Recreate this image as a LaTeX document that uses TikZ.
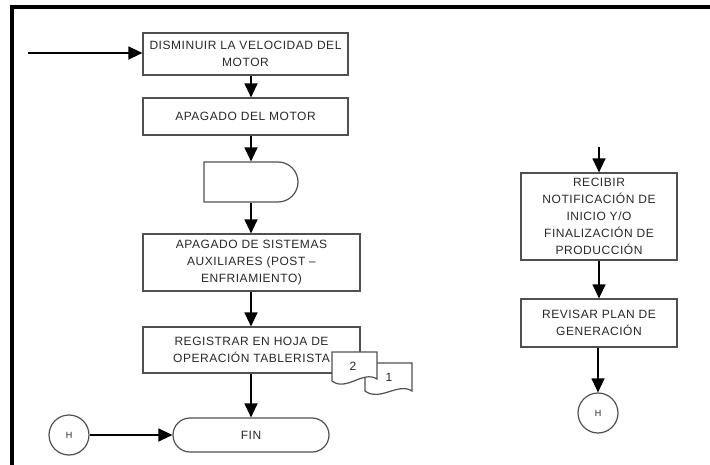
\documentclass[tikz,border=0pt]{standalone}
\usepackage{fontspec}
\setmainfont{Liberation Sans}
\newfontfamily\flowfamily[LetterSpace=4.5]{Liberation Sans}
\usepackage{tikz}
\usetikzlibrary{shapes.misc, arrows.meta, positioning}
\definecolor{boxline}{RGB}{80, 80, 80}
\definecolor{inktext}{RGB}{40, 40, 40}
\newcommand{\flowfont}{\flowfamily\fontsize{12}{17}\selectfont}

\begin{document}
\begin{tikzpicture}[x=1pt, y=-1pt,
  procbox/.style={draw=boxline, line width=1.2pt, align=center,
                  font=\flowfont, text=inktext, inner sep=1pt},
  delaybox/.style={draw=boxline, line width=1.2pt, rounded rectangle,
                   rounded rectangle west arc=none, inner sep=0pt},
  termbox/.style={draw=boxline, line width=1.2pt, rounded rectangle,
                  font=\flowfont, text=inktext, inner sep=0pt},
  connector/.style={draw=boxline, line width=1.2pt, circle, minimum size=40pt,
                    font=\fontsize{9}{10}\selectfont, text=inktext, inner sep=0pt},
  docshape/.style={draw=boxline, line width=1.2pt, fill=white},
  arrow/.style={-{Triangle[length=14pt, width=13pt]}, line width=1.3pt, color=black}
]
  \useasboundingbox (0,0) rectangle (710,465);

  % frame
  \draw[line width=3.5pt] (12,465) -- (12,7) -- (710,7);

  % left column
  \coordinate (entry) at (28,53);
  \node[procbox, minimum width=205pt, minimum height=42pt] (b1) at (245.5,54)
    {DISMINUIR LA VELOCIDAD DEL\\MOTOR};
  \node[procbox, minimum width=205pt, minimum height=37pt] (b2) at (245.5,116.5)
    {APAGADO DEL MOTOR};
  \node[delaybox, minimum width=94pt, minimum height=40pt] (dly) at (251,182) {};
  \node[procbox, minimum width=217pt, minimum height=57pt] (b3) at (251.5,262.5)
    {APAGADO DE SISTEMAS\\AUXILIARES (POST –\\ENFRIAMIENTO)};
  \node[procbox, minimum width=217pt, minimum height=46pt] (b4) at (251.5,350)
    {REGISTRAR EN HOJA DE\\OPERACIÓN TABLERISTA};
  \node[termbox, minimum width=156pt, minimum height=34pt] (fin) at (251,435) {FIN};
  \node[connector] (hl) at (69,435) {H};

  % documents
  \draw[docshape] (365,363) -- (412,363) -- (412,391)
    .. controls (398,382) and (380,402) .. (365,391) -- cycle;
  \draw[docshape] (332,352) -- (377,352) -- (377,379)
    .. controls (363,370) and (346,392) .. (332,381) -- cycle;
  \node[font=\flowfont, text=inktext] (n2) at (353,366) {2};
  \node[font=\flowfont, text=inktext] (n1) at (389,377) {1};

  % right column
  \coordinate (rtop) at (599,147);
  \node[procbox, minimum width=156pt, minimum height=87pt] (r1) at (599,216.5)
    {RECIBIR\\NOTIFICACIÓN DE\\INICIO Y/O\\FINALIZACIÓN DE\\PRODUCCIÓN};
  \node[procbox, minimum width=156pt, minimum height=48pt] (r2) at (599,323)
    {REVISAR PLAN DE\\GENERACIÓN};
  \node[connector] (hr) at (598,413) {H};

  \draw[arrow] (entry) -- (b1.west |- entry);
  \draw[arrow] (b1.south -| dly) -- (b2.north -| dly);
  \draw[arrow] (b2.south -| dly) -- (dly.north);
  \draw[arrow] (dly.south) -- (b3.north -| dly);
  \draw[arrow] (b3.south -| dly) -- (b4.north -| dly);
  \draw[arrow] (b4.south -| dly) -- (fin.north);
  \draw[arrow] (hl) -- (fin);
  \draw[arrow] (rtop) -- (r1.north);
  \draw[arrow] (r1) -- (r2);
  \draw[arrow] (r2.south -| hr) -- (hr);
\end{tikzpicture}
\end{document}
